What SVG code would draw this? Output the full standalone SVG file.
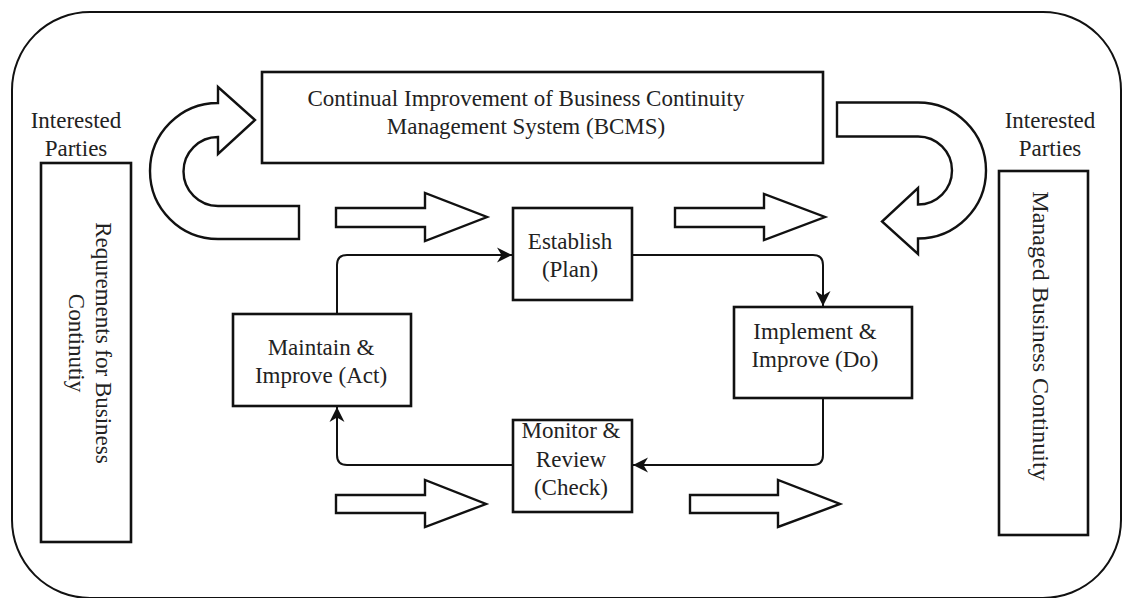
<svg xmlns="http://www.w3.org/2000/svg" width="1122" height="598" viewBox="0 0 1122 598">
  <style>
    .frame { fill: none; stroke: #111; stroke-width: 2; }
    .box { fill: #fff; stroke: #111; stroke-width: 2.6; }
    .block { fill: #fff; stroke: #111; stroke-width: 2.4; stroke-linejoin: miter; }
    .link { fill: none; stroke: #111; stroke-width: 2; }
    text { font-family: "Liberation Serif", "Times New Roman", serif; font-size: 23px; fill: #222; text-anchor: middle; }
  </style>
  <defs>
    <marker id="head" viewBox="-16 -8 17 16" refX="0" refY="0" markerWidth="17" markerHeight="16" markerUnits="userSpaceOnUse" orient="auto">
      <path d="M 0 0 L -15 -7.5 L -10.5 0 L -15 7.5 Z" fill="#111"/>
    </marker>
  </defs>

  <rect width="1122" height="598" fill="#fff"/>

  <!-- outer boundary -->
  <rect class="frame" x="12" y="12" width="1109" height="586" rx="78" ry="78"/>

  <!-- interested parties labels -->
  <g id="parties-left">
    <text x="76" y="128">Interested</text>
    <text x="76" y="156">Parties</text>
  </g>
  <g id="parties-right">
    <text x="1050" y="128">Interested</text>
    <text x="1050" y="156">Parties</text>
  </g>

  <!-- input / output boxes -->
  <g id="requirements">
    <rect class="box" x="41" y="163" width="90" height="379"/>
    <text transform="translate(95.5 343) rotate(90)" x="0" y="0">Requrements for Business</text>
    <text transform="translate(68.5 343) rotate(90)" x="0" y="0">Continutiy</text>
  </g>
  <g id="managed">
    <rect class="box" x="999" y="171" width="89" height="364"/>
    <text transform="translate(1033 336) rotate(90)" x="0" y="0" style="font-size:24px">Managed Business Continuity</text>
  </g>

  <!-- continual improvement banner -->
  <g id="bcms">
    <rect class="box" x="262" y="72" width="561" height="91"/>
    <text x="526" y="106">Continual Improvement of Business Continuity</text>
    <text x="526" y="134">Management System (BCMS)</text>
  </g>

  <!-- curved block arrows -->
  <g id="curve-left">
    <path class="block" d="M 299 206 L 218 206 A 34 34 0 0 1 218 137 L 218 154 L 255 120 L 218 87 L 218 103 A 68 68 0 0 0 218 239 L 299 239 Z"/>
  </g>
  <g id="curve-right">
    <path class="block" d="M 837 102.5 L 918 102.5 A 68 68 0 0 1 918 238.5 L 918 254 L 882 221.5 L 918 188 L 918 204.5 A 34 34 0 0 0 918 136.5 L 837 136.5 Z"/>
  </g>

  <!-- straight block arrows -->
  <g id="flow-top-left">
    <path class="block" d="M 336 208 L 425 208 L 425 193 L 487 217 L 425 241 L 425 227 L 336 227 Z"/>
  </g>
  <g id="flow-top-right">
    <path class="block" d="M 675 208 L 764 208 L 764 194 L 825 217 L 764 240 L 764 227 L 675 227 Z"/>
  </g>
  <g id="flow-bottom-left">
    <path class="block" d="M 336 495 L 425 495 L 425 480 L 486 504 L 425 527 L 425 513 L 336 513 Z"/>
  </g>
  <g id="flow-bottom-right">
    <path class="block" d="M 690 495 L 778 495 L 778 480 L 840 504 L 778 527 L 778 513 L 690 513 Z"/>
  </g>

  <!-- PDCA cycle connectors -->
  <g id="connectors">
    <path class="link" d="M 337 314 L 337 265 Q 337 255 347 255 L 512 255" marker-end="url(#head)"/>
    <path class="link" d="M 632 255 L 813 255 Q 823 255 823 265 L 823 306" marker-end="url(#head)"/>
    <path class="link" d="M 823 398 L 823 455 Q 823 465 813 465 L 633 465" marker-end="url(#head)"/>
    <path class="link" d="M 513 465 L 347 465 Q 337 465 337 455 L 337 407" marker-end="url(#head)"/>
  </g>

  <!-- PDCA stages -->
  <g id="establish">
    <rect class="box" x="513" y="208" width="119" height="92"/>
    <text x="570" y="249">Establish</text>
    <text x="570" y="277">(Plan)</text>
  </g>
  <g id="implement">
    <rect class="box" x="734" y="307" width="178" height="91"/>
    <text x="815" y="339">Implement &amp;</text>
    <text x="815" y="367">Improve (Do)</text>
  </g>
  <g id="monitor">
    <rect class="box" x="513" y="420" width="119" height="92"/>
    <text x="571" y="438">Monitor &amp;</text>
    <text x="571" y="467">Review</text>
    <text x="571" y="495">(Check)</text>
  </g>
  <g id="maintain">
    <rect class="box" x="233" y="314" width="178" height="92"/>
    <text x="321" y="355">Maintain &amp;</text>
    <text x="321" y="383">Improve (Act)</text>
  </g>
</svg>
